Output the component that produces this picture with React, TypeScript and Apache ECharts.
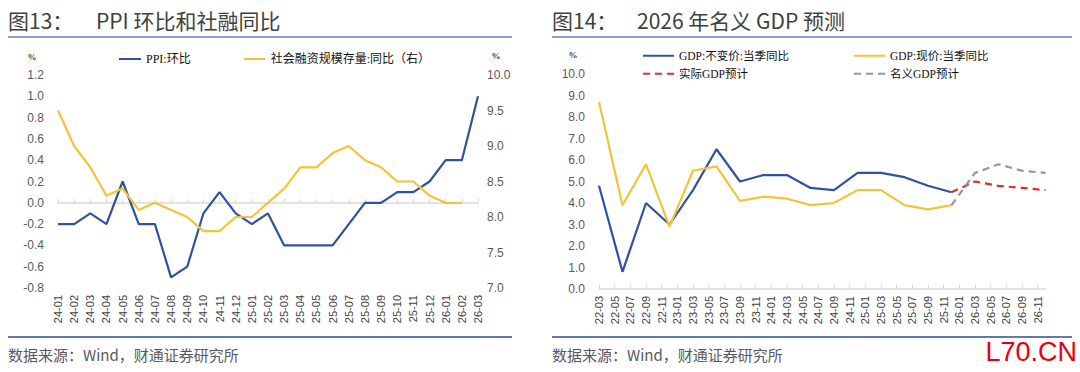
import React, { useEffect, useRef } from "react";
import * as echarts from "echarts";

// ---------- Left chart data ----------
const leftCategories = [
  "24-01", "24-02", "24-03", "24-04", "24-05", "24-06", "24-07", "24-08", "24-09",
  "24-10", "24-11", "24-12", "25-01", "25-02", "25-03", "25-04", "25-05", "25-06",
  "25-07", "25-08", "25-09", "25-10", "25-11", "25-12", "26-01", "26-02", "26-03",
];
const ppiMoM = [
  -0.2, -0.2, -0.1, -0.2, 0.2, -0.2, -0.2, -0.7, -0.6,
  -0.1, 0.1, -0.1, -0.2, -0.1, -0.4, -0.4, -0.4, -0.4,
  -0.2, 0.0, 0.0, 0.1, 0.1, 0.2, 0.4, 0.4, 1.0,
];
const tsfYoY = [
  9.5, 9.0, 8.7, 8.3, 8.4, 8.1, 8.2, 8.1, 8.0,
  7.8, 7.8, 8.0, 8.0, 8.2, 8.4, 8.7, 8.7, 8.9,
  9.0, 8.8, 8.7, 8.5, 8.5, 8.3, 8.2, 8.2, null,
];

// ---------- Right chart data ----------
const rightCategories = [
  "22-03", "22-04", "22-05", "22-06", "22-07", "22-08", "22-09", "22-10", "22-11", "22-12",
  "23-01", "23-02", "23-03", "23-04", "23-05", "23-06", "23-07", "23-08", "23-09", "23-10", "23-11", "23-12",
  "24-01", "24-02", "24-03", "24-04", "24-05", "24-06", "24-07", "24-08", "24-09", "24-10", "24-11", "24-12",
  "25-01", "25-02", "25-03", "25-04", "25-05", "25-06", "25-07", "25-08", "25-09", "25-10", "25-11", "25-12",
  "26-01", "26-02", "26-03", "26-04", "26-05", "26-06", "26-07", "26-08", "26-09", "26-10", "26-11", "26-12",
];
const gdpQuarters = [
  "22-03", "22-06", "22-09", "22-12", "23-03", "23-06", "23-09", "23-12",
  "24-03", "24-06", "24-09", "24-12", "25-03", "25-06", "25-09", "25-12",
];
const gdpReal = [4.8, 0.8, 4.0, 3.0, 4.6, 6.5, 5.0, 5.3, 5.3, 4.7, 4.6, 5.4, 5.4, 5.2, 4.8, 4.5];
const gdpNominal = [8.7, 3.9, 5.8, 2.9, 5.5, 5.7, 4.1, 4.3, 4.2, 3.9, 4.0, 4.6, 4.6, 3.9, 3.7, 3.9];
const forecastQuarters = ["25-12", "26-03", "26-06", "26-09", "26-12"];
const realForecast = [4.5, 5.0, 4.8, 4.7, 4.6];
const nominalForecast = [3.9, 5.4, 5.8, 5.5, 5.4];

const BLUE = "#2E52A0";
const YELLOW = "#F0C53A";
const RED = "#D8322C";
const GRAY = "#8C97AE";

const SANS = "Liberation Sans, Arial, Noto Sans CJK SC, sans-serif";
const CJK = "Noto Sans CJK SC, sans-serif";
const SERIF = "Liberation Serif, Noto Sans CJK SC, serif";

const pairs = (cats: string[], vals: number[]) => cats.map((c, i) => [c, vals[i]]);

export default function App() {
  const ref = useRef<HTMLDivElement>(null);

  useEffect(() => {
    document.body.style.margin = "0";
    if (!ref.current) return;
    const chart = echarts.init(ref.current, undefined, { renderer: "svg" });

    const axisLabelStyle = { color: "#595959", fontSize: 12, fontFamily: SANS };
    const xLabelStyle = { color: "#404040", fontSize: 11, fontFamily: SANS };
    const legendText = { fontSize: 11.5, fontWeight: "normal", fontFamily: SERIF, color: "#111111" };
    const hiddenSymbol = { opacity: 0, color: "transparent", borderWidth: 0 };

    const option: any = {
      animation: false,
      textStyle: { fontFamily: SANS },
      grid: [
        { left: 58, top: 75, width: 420, height: 213 },
        { left: 599, top: 74, width: 446.5, height: 215 },
      ],
      legend: [
        {
          data: ["PPI:环比", "社会融资规模存量:同比（右）"],
          left: 118,
          top: 53,
          padding: 0,
          itemWidth: 22,
          itemHeight: 14,
          itemGap: 52,
          itemStyle: hiddenSymbol,
          textStyle: { ...legendText, fontSize: 12 },
        },
        {
          data: ["GDP:不变价:当季同比", "实际GDP预计"],
          left: 642,
          top: 50,
          orient: "vertical",
          padding: 0,
          itemWidth: 31,
          itemHeight: 14,
          itemGap: 6.5,
          itemStyle: hiddenSymbol,
          textStyle: legendText,
        },
        {
          data: ["GDP:现价:当季同比", "名义GDP预计"],
          left: 853,
          top: 50,
          orient: "vertical",
          padding: 0,
          itemWidth: 31,
          itemHeight: 14,
          itemGap: 6.5,
          itemStyle: hiddenSymbol,
          textStyle: legendText,
        },
      ],
      xAxis: [
        {
          type: "category",
          gridIndex: 0,
          data: leftCategories,
          boundaryGap: false,
          position: "bottom",
          axisLine: { show: false, onZero: false },
          axisTick: { show: false },
          axisLabel: { ...xLabelStyle, rotate: 90, interval: 0, margin: 7 },
        },
        {
          type: "category",
          gridIndex: 0,
          data: leftCategories,
          boundaryGap: false,
          position: "bottom",
          axisLine: { show: true, onZero: true, onZeroAxisIndex: 0, lineStyle: { color: "#D9D9D9", width: 1.5 } },
          axisTick: { show: true, inside: true, length: 4, interval: 0, lineStyle: { color: "#D9D9D9" } },
          axisLabel: { show: false },
        },
        {
          type: "category",
          gridIndex: 1,
          data: rightCategories,
          boundaryGap: false,
          position: "bottom",
          axisLine: { show: true, onZero: false, lineStyle: { color: "#D9D9D9", width: 1.5 } },
          axisTick: { show: true, inside: true, length: 4, interval: 1, lineStyle: { color: "#D9D9D9" } },
          axisLabel: { ...xLabelStyle, rotate: 90, interval: 1, margin: 7 },
        },
      ],
      yAxis: [
        {
          type: "value",
          gridIndex: 0,
          position: "left",
          min: -0.8,
          max: 1.2,
          interval: 0.2,
          axisLine: { show: false },
          axisTick: { show: false },
          splitLine: { show: false },
          axisLabel: { ...axisLabelStyle, margin: 14, formatter: (v: number) => v.toFixed(1) },
        },
        {
          type: "value",
          gridIndex: 0,
          position: "right",
          min: 7,
          max: 10,
          interval: 0.5,
          axisLine: { show: false },
          axisTick: { show: false },
          splitLine: { show: false },
          axisLabel: { ...axisLabelStyle, margin: 9, formatter: (v: number) => v.toFixed(1) },
        },
        {
          type: "value",
          gridIndex: 1,
          position: "left",
          min: 0,
          max: 10,
          interval: 1,
          axisLine: { show: false },
          axisTick: { show: false },
          splitLine: { show: false },
          axisLabel: { ...axisLabelStyle, margin: 14, formatter: (v: number) => v.toFixed(1) },
        },
      ],
      series: [
        {
          name: "PPI:环比",
          type: "line",
          xAxisIndex: 0,
          yAxisIndex: 0,
          data: ppiMoM,
          symbol: "none",
          lineStyle: { color: BLUE, width: 2.2 },
          itemStyle: { color: BLUE },
        },
        {
          name: "社会融资规模存量:同比（右）",
          type: "line",
          xAxisIndex: 0,
          yAxisIndex: 1,
          data: tsfYoY,
          symbol: "none",
          lineStyle: { color: YELLOW, width: 2.2 },
          itemStyle: { color: YELLOW },
        },
        {
          name: "GDP:不变价:当季同比",
          type: "line",
          xAxisIndex: 2,
          yAxisIndex: 2,
          data: pairs(gdpQuarters, gdpReal),
          symbol: "none",
          lineStyle: { color: BLUE, width: 2.2 },
          itemStyle: { color: BLUE },
        },
        {
          name: "GDP:现价:当季同比",
          type: "line",
          xAxisIndex: 2,
          yAxisIndex: 2,
          data: pairs(gdpQuarters, gdpNominal),
          symbol: "none",
          lineStyle: { color: YELLOW, width: 2.2 },
          itemStyle: { color: YELLOW },
        },
        {
          name: "实际GDP预计",
          type: "line",
          xAxisIndex: 2,
          yAxisIndex: 2,
          data: pairs(forecastQuarters, realForecast),
          symbol: "none",
          lineStyle: { color: RED, width: 2.2, type: [7, 5] },
          itemStyle: { color: RED },
        },
        {
          name: "名义GDP预计",
          type: "line",
          xAxisIndex: 2,
          yAxisIndex: 2,
          data: pairs(forecastQuarters, nominalForecast),
          symbol: "none",
          lineStyle: { color: GRAY, width: 2.2, type: [7, 5] },
          itemStyle: { color: GRAY },
        },
      ],
      graphic: [
        { type: "text", x: 8, y: 20, style: { text: "图13：", font: `21px ${CJK}`, fill: "#404040", verticalAlign: "middle" } },
        { type: "text", x: 96, y: 20, style: { text: "PPI 环比和社融同比", font: `21px ${CJK}`, fill: "#404040", verticalAlign: "middle" } },
        { type: "text", x: 552, y: 20, style: { text: "图14：", font: `21px ${CJK}`, fill: "#404040", verticalAlign: "middle" } },
        { type: "text", x: 637, y: 20, style: { text: "2026 年名义 GDP 预测", font: `21px ${CJK}`, fill: "#404040", verticalAlign: "middle" } },
        { type: "line", shape: { x1: 8, y1: 37, x2: 512, y2: 37 }, style: { stroke: "#8FA0C8", lineWidth: 2 } },
        { type: "line", shape: { x1: 552, y1: 37, x2: 1072, y2: 37 }, style: { stroke: "#8FA0C8", lineWidth: 2 } },
        { type: "line", shape: { x1: 8, y1: 337, x2: 512, y2: 337 }, style: { stroke: "#2F4D8C", lineWidth: 1.5 } },
        { type: "line", shape: { x1: 552, y1: 337, x2: 1072, y2: 337 }, style: { stroke: "#2F4D8C", lineWidth: 1.5 } },
        { type: "text", x: 32, y: 57, style: { text: "%", font: `bold 9px ${SERIF}`, fill: "#404040", align: "center", verticalAlign: "middle" } },
        { type: "text", x: 496, y: 56, style: { text: "%", font: `bold 9px ${SERIF}`, fill: "#404040", align: "center", verticalAlign: "middle" } },
        { type: "text", x: 573, y: 55, style: { text: "%", font: `bold 9px ${SERIF}`, fill: "#404040", align: "center", verticalAlign: "middle" } },
        { type: "text", x: 8, y: 354, style: { text: "数据来源：Wind，财通证券研究所", font: `15px ${CJK}`, fill: "#595959", verticalAlign: "middle" } },
        { type: "text", x: 552, y: 354, style: { text: "数据来源：Wind，财通证券研究所", font: `15px ${CJK}`, fill: "#595959", verticalAlign: "middle" } },
        { type: "text", x: 1077, y: 352, style: { text: "L70.CN", font: `27px ${SANS}`, fill: "#E60012", align: "right", verticalAlign: "middle" } },
      ],
    };

    chart.setOption(option);
    return () => chart.dispose();
  }, []);

  return <div ref={ref} style={{ width: 1080, height: 372 }} />;
}
